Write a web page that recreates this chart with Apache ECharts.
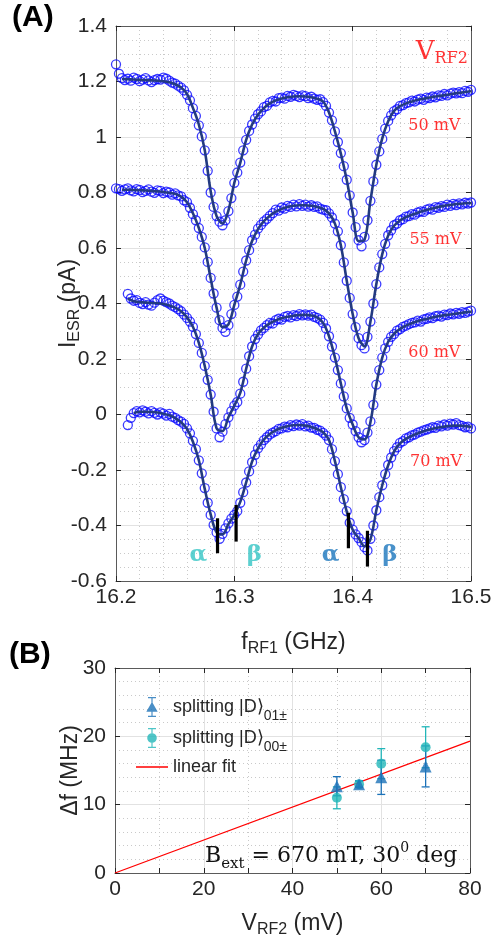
<!DOCTYPE html>
<html><head><meta charset="utf-8">
<script src="https://cdn.jsdelivr.net/npm/echarts@6/dist/echarts.min.js"></script>
<style>html,body{margin:0;padding:0;background:#fff}#c{width:494px;height:949px}</style>
</head><body><div id="c"></div>
<script>
// ---------- Panel A data ----------
const freqStart = 16.2;      // GHz
const markerStep = 0.0025;   // GHz between measured points
const fitStep = 0.005;       // GHz between fit samples
const xTicksA = [16.2, 16.3, 16.4, 16.5];
const seriesNamesA = ['50 mV', '55 mV', '60 mV', '70 mV'];

const meas50 = [1.262,1.228,1.212,1.205,1.210,1.203,1.214,1.209,1.201,1.207,
1.212,1.204,1.198,1.205,1.209,1.207,1.214,1.210,1.203,1.196,
1.192,1.185,1.178,1.168,1.152,1.132,1.104,1.076,1.042,1.002,
0.952,0.878,0.800,0.748,0.715,0.695,0.682,0.700,0.733,0.780,
0.835,0.872,0.908,0.952,0.990,1.022,1.045,1.066,1.082,1.092,
1.108,1.112,1.125,1.130,1.128,1.140,1.142,1.138,1.148,1.145,
1.152,1.148,1.144,1.150,1.147,1.140,1.145,1.138,1.134,1.136,
1.126,1.112,1.088,1.060,1.020,0.982,0.942,0.895,0.846,0.790,
0.728,0.675,0.628,0.606,0.640,0.700,0.770,0.840,0.900,0.948,
0.993,1.030,1.058,1.078,1.093,1.100,1.112,1.115,1.122,1.125,
1.131,1.128,1.135,1.138,1.134,1.142,1.140,1.146,1.143,1.150,
1.148,1.155,1.150,1.156,1.160,1.157,1.162,1.158,1.166,1.163,
1.170];
const meas55 = [0.815,0.812,0.806,0.811,0.815,0.808,0.804,0.812,0.809,0.801,
0.806,0.811,0.803,0.799,0.808,0.806,0.798,0.803,0.800,0.792,
0.797,0.790,0.786,0.772,0.765,0.745,0.722,0.700,0.672,0.640,
0.602,0.550,0.492,0.436,0.385,0.340,0.312,0.298,0.322,0.362,
0.395,0.425,0.468,0.515,0.555,0.592,0.628,0.648,0.670,0.683,
0.696,0.705,0.716,0.726,0.738,0.735,0.746,0.742,0.752,0.748,
0.756,0.750,0.758,0.752,0.756,0.749,0.754,0.748,0.750,0.742,
0.738,0.736,0.725,0.710,0.688,0.660,0.610,0.548,0.482,0.420,
0.362,0.315,0.275,0.250,0.238,0.280,0.335,0.400,0.470,0.530,
0.578,0.615,0.646,0.664,0.682,0.688,0.700,0.704,0.713,0.715,
0.722,0.720,0.728,0.732,0.730,0.738,0.742,0.738,0.747,0.745,
0.751,0.748,0.756,0.752,0.759,0.755,0.761,0.757,0.763,0.760,
0.764];
const meas60 = [null,null,null,null,0.435,0.418,0.410,0.412,0.402,0.398,
0.405,0.396,0.392,0.403,0.412,0.418,0.410,0.405,0.400,0.392,
0.387,0.380,0.372,0.360,0.348,0.335,0.316,0.290,0.258,0.222,
0.175,0.125,0.072,0.010,-0.050,-0.082,-0.062,-0.035,-0.010,0.012,
0.032,0.045,0.075,0.118,0.165,0.210,0.245,0.272,0.288,0.303,
0.312,0.322,0.330,0.328,0.340,0.345,0.342,0.352,0.355,0.350,
0.358,0.355,0.362,0.357,0.361,0.356,0.360,0.352,0.348,0.342,
0.330,0.310,0.282,0.245,0.205,0.160,0.112,0.065,0.022,-0.012,
-0.036,-0.060,-0.082,-0.100,-0.092,-0.065,-0.025,0.035,0.108,0.160,
0.205,0.238,0.262,0.280,0.290,0.302,0.308,0.316,0.320,0.326,
0.330,0.332,0.338,0.335,0.343,0.345,0.350,0.347,0.354,0.356,
0.353,0.360,0.358,0.364,0.361,0.366,0.363,0.369,0.366,0.371,
0.374];
const meas70 = [null,null,null,null,-0.038,-0.012,0.005,0.012,0.008,0.015,
0.010,0.004,0.012,0.006,0.000,0.008,0.003,-0.004,0.002,-0.008,
-0.012,-0.020,-0.026,-0.034,-0.050,-0.068,-0.095,-0.125,-0.165,-0.212,
-0.265,-0.318,-0.362,-0.398,-0.425,-0.448,-0.430,-0.410,-0.392,-0.375,
-0.362,-0.348,-0.318,-0.280,-0.245,-0.205,-0.172,-0.145,-0.122,-0.108,
-0.092,-0.082,-0.072,-0.065,-0.060,-0.052,-0.050,-0.044,-0.046,-0.038,
-0.042,-0.036,-0.040,-0.035,-0.043,-0.040,-0.047,-0.048,-0.055,-0.058,
-0.066,-0.076,-0.092,-0.125,-0.168,-0.215,-0.262,-0.305,-0.348,-0.390,
-0.415,-0.432,-0.445,-0.460,-0.478,-0.490,-0.448,-0.400,-0.345,-0.298,
-0.255,-0.215,-0.182,-0.155,-0.132,-0.118,-0.102,-0.096,-0.086,-0.082,
-0.075,-0.072,-0.065,-0.062,-0.057,-0.054,-0.050,-0.046,-0.048,-0.040,
-0.043,-0.036,-0.040,-0.033,-0.036,-0.031,-0.038,-0.041,-0.046,-0.044,
-0.050];

const fit50 = [null,1.209,1.208,1.207,1.206,1.205,1.204,1.203,1.201,1.197,
1.190,1.178,1.155,1.105,1.045,0.952,0.805,0.715,0.688,0.735,
0.835,0.907,0.990,1.045,1.080,1.104,1.121,1.132,1.139,1.143,
1.146,1.147,1.146,1.143,1.138,1.128,1.088,1.020,0.940,0.845,
0.728,0.625,0.630,0.770,0.900,0.995,1.057,1.094,1.111,1.121,
1.128,1.134,1.138,1.142,1.146,1.149,1.152,1.156,1.159,1.162,
1.166];
const fit55 = [null,0.810,0.810,0.809,0.808,0.807,0.806,0.804,0.802,0.799,
0.795,0.785,0.765,0.725,0.672,0.600,0.490,0.385,0.315,0.325,
0.395,0.468,0.555,0.625,0.668,0.697,0.716,0.731,0.741,0.748,
0.752,0.754,0.754,0.752,0.748,0.741,0.725,0.688,0.610,0.482,
0.362,0.275,0.245,0.335,0.470,0.578,0.645,0.680,0.699,0.711,
0.720,0.727,0.734,0.740,0.745,0.750,0.754,0.757,0.759,0.761,
0.762];
const fit60 = [null,null,0.418,0.408,0.405,0.403,0.402,0.401,0.398,0.393,
0.385,0.372,0.350,0.316,0.258,0.175,0.072,-0.050,-0.060,-0.010,
0.032,0.078,0.165,0.245,0.290,0.313,0.328,0.339,0.347,0.352,
0.356,0.358,0.359,0.357,0.350,0.330,0.282,0.205,0.112,0.022,
-0.036,-0.082,-0.090,-0.028,0.108,0.205,0.262,0.291,0.308,0.320,
0.329,0.336,0.342,0.347,0.352,0.356,0.359,0.362,0.365,0.368,
0.370];
const fit70 = [null,null,null,0.005,0.010,0.010,0.009,0.007,0.003,-0.003,
-0.013,-0.028,-0.052,-0.098,-0.165,-0.268,-0.360,-0.425,-0.432,-0.395,
-0.362,-0.315,-0.245,-0.170,-0.122,-0.090,-0.070,-0.057,-0.048,-0.042,
-0.039,-0.038,-0.040,-0.045,-0.053,-0.064,-0.092,-0.168,-0.262,-0.350,
-0.415,-0.445,-0.475,-0.450,-0.345,-0.255,-0.183,-0.133,-0.104,-0.088,
-0.077,-0.068,-0.060,-0.054,-0.049,-0.045,-0.042,-0.040,-0.040,-0.042,
-0.045];

// alpha / beta resonance markers (70 mV trace)
const peakF  = [16.2858, 16.3015, 16.3964, 16.4125];
const peakLo = [-0.500, -0.458, -0.482, -0.548];
const peakHi = [-0.374, -0.326, -0.354, -0.419];
const peakNames = ['α', 'β', 'α', 'β'];

// ---------- Panel B data ----------
const vrf2 = [50, 55, 60, 70];              // mV
const split01 = [12.7, 13.0, 14.0, 15.6];   // MHz
const err01   = [1.4, 0.5, 2.5, 3.0];
const split00 = [11.0, 13.0, 16.0, 18.4];
const err00   = [1.6, 0.4, 2.2, 3.0];
const fitV  = [0, 80];
const fitDf = [0, 19.3];
const xTicksB = [0, 20, 40, 60, 80];
const yTicksB = [0, 10, 20, 30];

// ---------- build ----------
function toPairs(arr, step) {
  const out = [];
  arr.forEach((v, i) => { if (v !== null) out.push([+(freqStart + i * step).toFixed(4), v]); });
  return out;
}
const SANS = 'Liberation Sans', SERIF = 'DejaVu Serif';
const TXT = '#262626';
const AX = '#5a5a5a';
const MAJ = '#e2e2e2', MIN = '#c9c9c9';

function axisCommon(o) {
  return Object.assign({
    type: 'value',
    axisLine: { show: true, onZero: false, lineStyle: { color: AX, width: 1 } },
    axisTick: { show: true, inside: true, length: 5, lineStyle: { color: TXT } },
    axisLabel: { show: false },
    splitLine: { show: false },
  }, o);
}
const labelStyle = { show: true, fontSize: 21, fontFamily: SANS, color: TXT, margin: 6 };
const nameRich = {
  a: { fontSize: 23, fontFamily: SANS, color: TXT },
  s: { fontSize: 16, fontFamily: SANS, color: TXT, verticalAlign: 'bottom', padding: [12, 0, 0, 0] }
};

const measArrays = [meas50, meas55, meas60, meas70];
const fitArrays = [fit50, fit55, fit60, fit70];
const series = [];
measArrays.forEach((arr, i) => {
  series.push({
    type: 'scatter', name: 'data ' + seriesNamesA[i], xAxisIndex: 0, yAxisIndex: 0,
    data: toPairs(arr, markerStep), symbol: 'circle', symbolSize: 9, z: 2, silent: true,
    itemStyle: { color: 'rgba(0,0,0,0)', borderColor: '#0a0aff', borderWidth: 1.3 }
  });
});
fitArrays.forEach((arr, i) => {
  series.push({
    type: 'line', name: 'fit ' + seriesNamesA[i], xAxisIndex: 0, yAxisIndex: 0,
    data: toPairs(arr, fitStep), showSymbol: false, smooth: 0.35, z: 3, silent: true,
    lineStyle: { color: '#233a82', width: 2.6 }
  });
});
series.push({
  type: 'custom', xAxisIndex: 0, yAxisIndex: 0, z: 5, silent: true,
  data: peakF.map((f, i) => [f, peakLo[i], peakHi[i]]),
  encode: { x: 0, y: [1, 2] },
  renderItem: (params, api) => {
    const a = api.coord([api.value(0), api.value(1)]);
    const b = api.coord([api.value(0), api.value(2)]);
    return { type: 'line', shape: { x1: a[0], y1: a[1], x2: b[0], y2: b[1] }, style: { stroke: '#000', lineWidth: 3.2 } };
  }
});
// Greek labels
const greekColors = ['#33c4c4', '#33c4c4', '#1a76bd', '#1a76bd'];
const greekPos = [[16.2695, -0.506], [16.3170, -0.506], [16.3814, -0.506], [16.4314, -0.506]];
series.push({
  type: 'scatter', xAxisIndex: 0, yAxisIndex: 0, symbolSize: 1, z: 6, silent: true,
  itemStyle: { color: 'rgba(0,0,0,0)' },
  data: peakNames.map((n, i) => ({ name: n, value: greekPos[i],
    label: { color: greekColors[i] } })),
  label: { show: true, position: 'inside', formatter: '{b}', fontSize: 23, fontWeight: 'bold', fontFamily: SERIF }
});
// Red voltage labels
const vLabPos = [[16.4690, 1.040], [16.4700, 0.629], [16.4690, 0.222], [16.4705, -0.171]];
series.push({
  type: 'scatter', xAxisIndex: 0, yAxisIndex: 0, symbolSize: 1, z: 6, silent: true,
  itemStyle: { color: 'rgba(0,0,0,0)' },
  data: seriesNamesA.map((n, i) => ({ name: n, value: vLabPos[i] })).concat([{ name: 'VRF2', value: [16.4754, 1.306],
    label: { formatter: '{v|V}{s|RF2}' } }]),
  label: { show: true, position: 'inside', formatter: '{b}', fontSize: 16, fontFamily: SERIF, color: '#ff0000',
    rich: { v: { fontSize: 26, fontFamily: SERIF, color: '#ff0000' },
            s: { fontSize: 16, fontFamily: SERIF, color: '#ff0000', verticalAlign: 'bottom', padding: [14, 0, 0, 0] } } }
});

// Panel B
const C01 = '#1c72b8', C00 = '#22b6b9';
series.push({
  type: 'line', name: 'fit', xAxisIndex: 2, yAxisIndex: 2, data: fitV.map((v, i) => [v, fitDf[i]]),
  showSymbol: false, color: '#ff0000', itemStyle: { color: '#ff0000' }, lineStyle: { color: '#ff0000', width: 1.3 }, z: 2, silent: true
});
function errSeries(vals, errs, color) {
  return {
    type: 'custom', xAxisIndex: 2, yAxisIndex: 2, z: 3, silent: true,
    data: vrf2.map((v, i) => [v, vals[i], errs[i]]),
    encode: { x: 0, y: 1 },
    renderItem: (params, api) => {
      const x = api.value(0), y = api.value(1), e = api.value(2);
      const t = api.coord([x, y + e]), b = api.coord([x, y - e]);
      const st = { stroke: color, lineWidth: 1.3 };
      return { type: 'group', children: [
        { type: 'line', shape: { x1: t[0], y1: t[1], x2: b[0], y2: b[1] }, style: st },
        { type: 'line', shape: { x1: t[0] - 4, y1: t[1], x2: t[0] + 4, y2: t[1] }, style: st },
        { type: 'line', shape: { x1: b[0] - 4, y1: b[1], x2: b[0] + 4, y2: b[1] }, style: st }
      ] };
    }
  };
}
series.push(errSeries(split00, err00, C00));
series.push({ type: 'scatter', name: 's00', xAxisIndex: 2, yAxisIndex: 2, z: 4, silent: true,
  data: vrf2.map((v, i) => [v, split00[i]]), symbol: 'circle', symbolSize: 10, itemStyle: { color: C00 } });
series.push(errSeries(split01, err01, C01));
series.push({ type: 'scatter', name: 's01', xAxisIndex: 2, yAxisIndex: 2, z: 4, silent: true,
  data: vrf2.map((v, i) => [v, split01[i]]), symbol: 'triangle', symbolSize: 12, itemStyle: { color: C01 } });

const pad = 'M0,10h0.01v0.01h-0.01z M31.99,10h0.01v0.01h-0.01z ';
const bar = 'M15.4,0h1.2v20h-1.2z M12,0h8v1.2h-8z M12,18.8h8v1.2h-8z ';
const triIcon = 'path://' + pad + bar + 'M10.3,14.8L16,4.8L21.7,14.8z';
const cirIcon = 'path://' + pad + bar + 'M20.8,10A4.8,4.8,0,1,1,11.2,10A4.8,4.8,0,1,1,20.8,10z';
const lineIcon = 'path://M0,0h0.01v0.01h-0.01z M0,9.3h32v1.4h-32z M31.99,19.99h0.01v0.01h-0.01z';
const legendText = {
  fontSize: 18, fontFamily: SANS, color: TXT,
  rich: { n: { fontSize: 18, fontFamily: SANS, color: TXT },
          s: { fontSize: 14, fontFamily: SANS, color: TXT, verticalAlign: 'bottom', padding: [18, 0, 0, 0] } }
};
const legendLabels = { s01: '{n|splitting |D⟩}{s|01±}', s00: '{n|splitting |D⟩}{s|00±}', fit: '{n|linear fit}' };
function mkLegend(name, icon, top) {
  return { data: [{ name: name, icon: icon }], left: 136, top: top, padding: 0, itemWidth: 32, itemHeight: 20,
    selectedMode: false, textStyle: legendText, formatter: n => legendLabels[n] };
}

const option = {
  animation: false,
  backgroundColor: '#fff',
  grid: [
    { left: 116, top: 26, width: 355, height: 555, outerBoundsMode: 'none', containLabel: false },
    { left: 115, top: 668, width: 355, height: 205, outerBoundsMode: 'none', containLabel: false }
  ],
  xAxis: [
    axisCommon({ gridIndex: 0, position: 'bottom', min: 16.2, max: 16.5, interval: 0.1,
      axisLabel: Object.assign({}, labelStyle, { formatter: v => (+v).toFixed(1) }),
      splitLine: { show: true, lineStyle: { color: MAJ, width: 1 } },
      minorTick: { show: false, splitNumber: 5 },
      minorSplitLine: { show: true, lineStyle: { color: MIN, width: 1, type: [1, 3] } },
      name: '{a|f}{s|RF1}{a| (GHz)}', nameLocation: 'middle', nameGap: 48, nameMoveOverlap: false,
      nameTextStyle: { fontSize: 23, fontFamily: SANS, color: TXT, rich: nameRich } }),
    axisCommon({ gridIndex: 0, position: 'top', min: 16.2, max: 16.5, interval: 0.1 }),
    axisCommon({ gridIndex: 1, position: 'bottom', min: 0, max: 80, interval: 20,
      axisLabel: Object.assign({}, labelStyle),
      splitLine: { show: true, lineStyle: { color: MAJ, width: 1 } },
      minorTick: { show: true, splitNumber: 2, length: 5, lineStyle: { color: TXT } },
      minorSplitLine: { show: true, lineStyle: { color: MIN, width: 1, type: [1, 3] } },
      name: '{a|V}{s|RF2}{a| (mV)}', nameLocation: 'middle', nameGap: 37, nameMoveOverlap: false,
      nameTextStyle: { fontSize: 23, fontFamily: SANS, color: TXT, rich: nameRich } }),
    axisCommon({ gridIndex: 1, position: 'top', min: 0, max: 80, interval: 20,
      minorTick: { show: true, splitNumber: 2, length: 5, lineStyle: { color: TXT } } })
  ],
  yAxis: [
    axisCommon({ gridIndex: 0, position: 'left', min: -0.6, max: 1.4, interval: 0.2,
      axisLabel: Object.assign({}, labelStyle, { margin: 9 }),
      splitLine: { show: true, lineStyle: { color: MAJ, width: 1 } },
      minorTick: { show: false, splitNumber: 4 },
      minorSplitLine: { show: true, lineStyle: { color: MIN, width: 1, type: [1, 3] } },
      name: '{a|I}{s|ESR}{a| (pA)}', nameLocation: 'middle', nameGap: 33, nameRotate: 90, nameMoveOverlap: false,
      nameTextStyle: { fontSize: 23, fontFamily: SANS, color: TXT, rich: nameRich } }),
    axisCommon({ gridIndex: 0, position: 'right', min: -0.6, max: 1.4, interval: 0.2 }),
    axisCommon({ gridIndex: 1, position: 'left', min: 0, max: 30, interval: 10,
      axisLabel: Object.assign({}, labelStyle, { margin: 9 }),
      splitLine: { show: true, lineStyle: { color: MAJ, width: 1 } },
      minorTick: { show: false, splitNumber: 5 },
      minorSplitLine: { show: true, lineStyle: { color: MIN, width: 1, type: [1, 3] } },
      name: 'Δf (MHz)', nameLocation: 'middle', nameGap: 33, nameRotate: 90, nameMoveOverlap: false,
      nameTextStyle: { fontSize: 23, fontFamily: SANS, color: TXT } }),
    axisCommon({ gridIndex: 1, position: 'right', min: 0, max: 30, interval: 10 })
  ],
  legend: [
    mkLegend('s01', triIcon, 697),
    mkLegend('s00', cirIcon, 728),
    mkLegend('fit', lineIcon, 757)
  ],
  graphic: [
    { type: 'text', left: 12, top: 3, style: { text: '(A)', fontSize: 30, fontWeight: 'bold', fontFamily: SANS, fill: '#000' } },
    { type: 'text', left: 9, top: 640, style: { text: '(B)', fontSize: 30, fontWeight: 'bold', fontFamily: SANS, fill: '#000' } },
    { type: 'text', left: 205, top: 841, z: 10, style: {
        text: '{b|B}{e|ext}{b| = 670 mT, 30}{p|0}{b| deg}',
        fill: '#111', fontSize: 22, fontFamily: SERIF,
        rich: {
          b: { fontSize: 22, fontFamily: SERIF, fill: '#111', verticalAlign: 'middle' },
          e: { fontSize: 15, fontFamily: SERIF, fill: '#111', verticalAlign: 'bottom', padding: [16, 0, 0, 0] },
          p: { fontSize: 14, fontFamily: SERIF, fill: '#111', verticalAlign: 'top', padding: [0, 0, 14, 0] }
        } } }
  ],
  series: series
};
const chart = echarts.init(document.getElementById('c'), null, { renderer: 'canvas' });
chart.setOption(option);
</script>
</body></html>
